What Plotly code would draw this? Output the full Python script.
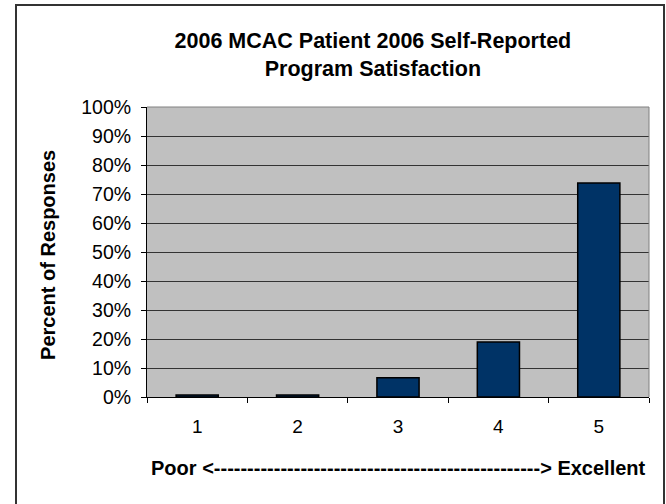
import plotly.graph_objects as go

categories = ["1", "2", "3", "4", "5"]
percent_responses = [0.7, 0.7, 6.6, 19.0, 73.8]
y_tick_values = [0, 10, 20, 30, 40, 50, 60, 70, 80, 90, 100]
y_tick_labels = ["0%", "10%", "20%", "30%", "40%", "50%", "60%", "70%", "80%", "90%", "100%"]

title_text = "2006 MCAC Patient 2006 Self-Reported<br>Program Satisfaction"
y_title = "Percent of Responses"
x_title = "Poor <" + "-" * 49 + "> Excellent"

FONT = "Liberation Sans, Arial, sans-serif"

fig = go.Figure()
fig.add_trace(go.Bar(
    x=categories,
    y=percent_responses,
    marker=dict(color="#003366", line=dict(color="#000000", width=1.5)),
    hoverinfo="x+y",
))

fig.update_layout(
    width=666,
    height=504,
    margin=dict(l=147, r=17, t=107, b=107),
    paper_bgcolor="#FFFFFF",
    plot_bgcolor="#C0C0C0",
    bargap=0.58,
    showlegend=False,
    font=dict(family=FONT, color="#000000", size=19),
    title=dict(
        text="<b>" + title_text + "</b>",
        font=dict(family=FONT, size=21.5, color="#000000"),
        xref="paper", x=0.45, xanchor="center",
        yref="container", y=1 - 48 / 504, yanchor="middle",
    ),
    xaxis=dict(
        type="category",
        showline=True, linecolor="#000000", linewidth=1,
        ticks="outside", ticklen=5, tickcolor="#000000", tickwidth=1,
        tickson="boundaries",
        showgrid=False,
        ticklabelstandoff=12,
        tickfont=dict(size=19),
    ),
    yaxis=dict(
        range=[0, 100],
        tickvals=y_tick_values,
        ticktext=y_tick_labels,
        showline=True, linecolor="#000000", linewidth=1,
        ticks="outside", ticklen=5, tickcolor="#000000", tickwidth=1,
        showgrid=True, gridcolor="#333333", gridwidth=1,
        zeroline=False,
        ticklabelstandoff=6,
        tickfont=dict(size=19.5),
    ),
)

# axis titles
fig.add_annotation(
    text="<b>" + y_title + "</b>", textangle=-90,
    xref="paper", yref="paper", x=(48 - 147) / 502, y=0.49,
    xanchor="center", yanchor="middle", showarrow=False,
    font=dict(family=FONT, size=20, color="#000000"),
)
fig.add_annotation(
    text="<b>" + x_title + "</b>",
    xref="paper", yref="paper", x=0.5, y=(397 - 468) / 290,
    xanchor="center", yanchor="middle", showarrow=False,
    font=dict(family=FONT, size=20, color="#000000"),
)

# plot area top/right border (gray)
fig.add_shape(type="path", path="M 0,1 L 1,1 L 1,0", xref="paper", yref="paper",
              line=dict(color="#808080", width=1), layer="above")

# chart outer border
fig.add_shape(type="rect", xref="paper", yref="paper",
              x0=(16 - 147) / 502, x1=(664 - 147) / 502,
              y0=(397 - 520) / 290, y1=(397 - 5) / 290,
              line=dict(color="#333333", width=2), fillcolor="rgba(0,0,0,0)", layer="above")

fig.write_html(
    "out.html",
    config={"displayModeBar": False},
    post_script="document.body.style.margin='0';document.body.style.padding='0';document.body.style.overflow='hidden';",
)
